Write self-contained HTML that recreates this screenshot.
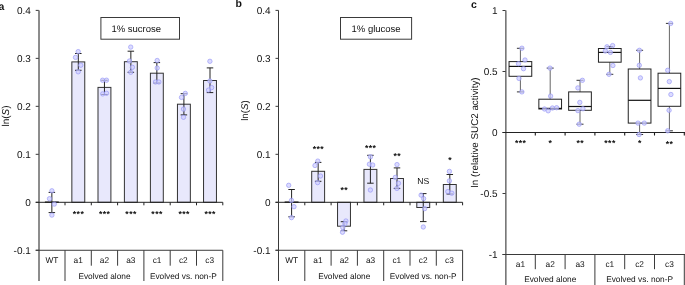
<!DOCTYPE html>
<html><head><meta charset="utf-8"><style>
html,body{margin:0;padding:0;background:#fff;width:685px;height:285px;overflow:hidden}
svg{display:block;will-change:transform}
text{font-family:"Liberation Sans", sans-serif;fill:#111;text-rendering:geometricPrecision}
</style></head><body>
<svg width="685" height="285" viewBox="0 0 685 285">
<text x="-1.4" y="9.5" font-size="10.5" text-anchor="start" font-weight="bold" >a</text>
<text x="235.6" y="6.9" font-size="10.5" text-anchor="start" font-weight="bold" >b</text>
<text x="471.0" y="7.7" font-size="10.5" text-anchor="start" font-weight="bold" >c</text>
<text x="0" y="0" font-size="1" text-anchor="middle" font-weight="normal" ></text>
<line x1="35.7" y1="10.379999999999995" x2="38.7" y2="10.379999999999995" stroke="#3a3a3a" stroke-width="1.0"/>
<text x="30.800000000000004" y="13.879999999999995" font-size="10" text-anchor="end" font-weight="normal" >0.4</text>
<line x1="35.7" y1="58.360000000000014" x2="38.7" y2="58.360000000000014" stroke="#3a3a3a" stroke-width="1.0"/>
<text x="30.800000000000004" y="61.860000000000014" font-size="10" text-anchor="end" font-weight="normal" >0.3</text>
<line x1="35.7" y1="106.34" x2="38.7" y2="106.34" stroke="#3a3a3a" stroke-width="1.0"/>
<text x="30.800000000000004" y="109.84" font-size="10" text-anchor="end" font-weight="normal" >0.2</text>
<line x1="35.7" y1="154.32" x2="38.7" y2="154.32" stroke="#3a3a3a" stroke-width="1.0"/>
<text x="30.800000000000004" y="157.82" font-size="10" text-anchor="end" font-weight="normal" >0.1</text>
<line x1="35.7" y1="202.3" x2="38.7" y2="202.3" stroke="#3a3a3a" stroke-width="1.0"/>
<text x="30.800000000000004" y="205.8" font-size="10" text-anchor="end" font-weight="normal" >0</text>
<line x1="35.7" y1="250.28000000000003" x2="38.7" y2="250.28000000000003" stroke="#3a3a3a" stroke-width="1.0"/>
<text x="30.800000000000004" y="253.78000000000003" font-size="10" text-anchor="end" font-weight="normal" >-0.1</text>
<rect x="45.4" y="201.9" width="12.9" height="0.5999999999999943" fill="#e8e8fc" stroke="#333" stroke-width="1"/>
<rect x="71.85" y="61.9" width="12.9" height="140.4" fill="#e8e8fc" stroke="#333" stroke-width="1"/>
<rect x="98.0" y="87.4" width="12.9" height="114.9" fill="#e8e8fc" stroke="#333" stroke-width="1"/>
<rect x="124.39999999999999" y="61.7" width="12.9" height="140.60000000000002" fill="#e8e8fc" stroke="#333" stroke-width="1"/>
<rect x="150.4" y="73.2" width="12.9" height="129.10000000000002" fill="#e8e8fc" stroke="#333" stroke-width="1"/>
<rect x="177.45000000000002" y="104.2" width="12.9" height="98.10000000000001" fill="#e8e8fc" stroke="#333" stroke-width="1"/>
<rect x="203.55" y="80.5" width="12.9" height="121.80000000000001" fill="#e8e8fc" stroke="#333" stroke-width="1"/>
<line x1="35.7" y1="202.3" x2="222.8" y2="202.3" stroke="#222" stroke-width="1"/>
<line x1="65.0" y1="202.3" x2="65.0" y2="205.3" stroke="#222" stroke-width="1"/>
<line x1="91.30000000000001" y1="202.3" x2="91.30000000000001" y2="205.3" stroke="#222" stroke-width="1"/>
<line x1="117.60000000000001" y1="202.3" x2="117.60000000000001" y2="205.3" stroke="#222" stroke-width="1"/>
<line x1="143.9" y1="202.3" x2="143.9" y2="205.3" stroke="#222" stroke-width="1"/>
<line x1="170.2" y1="202.3" x2="170.2" y2="205.3" stroke="#222" stroke-width="1"/>
<line x1="196.5" y1="202.3" x2="196.5" y2="205.3" stroke="#222" stroke-width="1"/>
<line x1="222.8" y1="202.3" x2="222.8" y2="205.3" stroke="#222" stroke-width="1"/>
<line x1="51.85" y1="192.4" x2="51.85" y2="212.6" stroke="#222" stroke-width="1"/>
<line x1="48.6" y1="192.4" x2="55.1" y2="192.4" stroke="#222" stroke-width="1"/>
<line x1="48.6" y1="212.6" x2="55.1" y2="212.6" stroke="#222" stroke-width="1"/>
<line x1="78.3" y1="53.5" x2="78.3" y2="70.3" stroke="#222" stroke-width="1"/>
<line x1="75.05" y1="53.5" x2="81.55" y2="53.5" stroke="#222" stroke-width="1"/>
<line x1="75.05" y1="70.3" x2="81.55" y2="70.3" stroke="#222" stroke-width="1"/>
<line x1="104.45" y1="80.3" x2="104.45" y2="94.5" stroke="#222" stroke-width="1"/>
<line x1="101.2" y1="80.3" x2="107.7" y2="80.3" stroke="#222" stroke-width="1"/>
<line x1="101.2" y1="94.5" x2="107.7" y2="94.5" stroke="#222" stroke-width="1"/>
<line x1="130.85" y1="51.2" x2="130.85" y2="72.3" stroke="#222" stroke-width="1"/>
<line x1="127.6" y1="51.2" x2="134.1" y2="51.2" stroke="#222" stroke-width="1"/>
<line x1="127.6" y1="72.3" x2="134.1" y2="72.3" stroke="#222" stroke-width="1"/>
<line x1="156.85" y1="62.6" x2="156.85" y2="83" stroke="#222" stroke-width="1"/>
<line x1="153.6" y1="62.6" x2="160.1" y2="62.6" stroke="#222" stroke-width="1"/>
<line x1="153.6" y1="83" x2="160.1" y2="83" stroke="#222" stroke-width="1"/>
<line x1="183.9" y1="93.7" x2="183.9" y2="114.9" stroke="#222" stroke-width="1"/>
<line x1="180.65" y1="93.7" x2="187.15" y2="93.7" stroke="#222" stroke-width="1"/>
<line x1="180.65" y1="114.9" x2="187.15" y2="114.9" stroke="#222" stroke-width="1"/>
<line x1="210.0" y1="67.9" x2="210.0" y2="92.6" stroke="#222" stroke-width="1"/>
<line x1="206.75" y1="67.9" x2="213.25" y2="67.9" stroke="#222" stroke-width="1"/>
<line x1="206.75" y1="92.6" x2="213.25" y2="92.6" stroke="#222" stroke-width="1"/>
<circle cx="51.9" cy="190.8" r="2.2" fill="rgba(205,205,255,0.72)" stroke="rgba(145,145,245,0.75)" stroke-width="0.8"/>
<circle cx="49.5" cy="198.7" r="2.2" fill="rgba(205,205,255,0.72)" stroke="rgba(145,145,245,0.75)" stroke-width="0.8"/>
<circle cx="54.3" cy="204.1" r="2.2" fill="rgba(205,205,255,0.72)" stroke="rgba(145,145,245,0.75)" stroke-width="0.8"/>
<circle cx="51.9" cy="215.1" r="2.2" fill="rgba(205,205,255,0.72)" stroke="rgba(145,145,245,0.75)" stroke-width="0.8"/>
<circle cx="78.2" cy="51.6" r="2.2" fill="rgba(205,205,255,0.72)" stroke="rgba(145,145,245,0.75)" stroke-width="0.8"/>
<circle cx="75.5" cy="57.4" r="2.2" fill="rgba(205,205,255,0.72)" stroke="rgba(145,145,245,0.75)" stroke-width="0.8"/>
<circle cx="80.8" cy="65.2" r="2.2" fill="rgba(205,205,255,0.72)" stroke="rgba(145,145,245,0.75)" stroke-width="0.8"/>
<circle cx="78.2" cy="71.8" r="2.2" fill="rgba(205,205,255,0.72)" stroke="rgba(145,145,245,0.75)" stroke-width="0.8"/>
<circle cx="102.6" cy="80.2" r="2.2" fill="rgba(205,205,255,0.72)" stroke="rgba(145,145,245,0.75)" stroke-width="0.8"/>
<circle cx="106.5" cy="80.2" r="2.2" fill="rgba(205,205,255,0.72)" stroke="rgba(145,145,245,0.75)" stroke-width="0.8"/>
<circle cx="102.7" cy="93.9" r="2.2" fill="rgba(205,205,255,0.72)" stroke="rgba(145,145,245,0.75)" stroke-width="0.8"/>
<circle cx="106.5" cy="93.3" r="2.2" fill="rgba(205,205,255,0.72)" stroke="rgba(145,145,245,0.75)" stroke-width="0.8"/>
<circle cx="130.7" cy="47.1" r="2.2" fill="rgba(205,205,255,0.72)" stroke="rgba(145,145,245,0.75)" stroke-width="0.8"/>
<circle cx="129.5" cy="61" r="2.2" fill="rgba(205,205,255,0.72)" stroke="rgba(145,145,245,0.75)" stroke-width="0.8"/>
<circle cx="132.4" cy="67.3" r="2.2" fill="rgba(205,205,255,0.72)" stroke="rgba(145,145,245,0.75)" stroke-width="0.8"/>
<circle cx="130.7" cy="72.3" r="2.2" fill="rgba(205,205,255,0.72)" stroke="rgba(145,145,245,0.75)" stroke-width="0.8"/>
<circle cx="157.2" cy="60.5" r="2.2" fill="rgba(205,205,255,0.72)" stroke="rgba(145,145,245,0.75)" stroke-width="0.8"/>
<circle cx="157.2" cy="68" r="2.2" fill="rgba(205,205,255,0.72)" stroke="rgba(145,145,245,0.75)" stroke-width="0.8"/>
<circle cx="155.5" cy="82" r="2.2" fill="rgba(205,205,255,0.72)" stroke="rgba(145,145,245,0.75)" stroke-width="0.8"/>
<circle cx="158.9" cy="82" r="2.2" fill="rgba(205,205,255,0.72)" stroke="rgba(145,145,245,0.75)" stroke-width="0.8"/>
<circle cx="185.3" cy="93.4" r="2.2" fill="rgba(205,205,255,0.72)" stroke="rgba(145,145,245,0.75)" stroke-width="0.8"/>
<circle cx="181.5" cy="97.4" r="2.2" fill="rgba(205,205,255,0.72)" stroke="rgba(145,145,245,0.75)" stroke-width="0.8"/>
<circle cx="183.5" cy="109.1" r="2.2" fill="rgba(205,205,255,0.72)" stroke="rgba(145,145,245,0.75)" stroke-width="0.8"/>
<circle cx="183.5" cy="117.3" r="2.2" fill="rgba(205,205,255,0.72)" stroke="rgba(145,145,245,0.75)" stroke-width="0.8"/>
<circle cx="209.9" cy="61.3" r="2.2" fill="rgba(205,205,255,0.72)" stroke="rgba(145,145,245,0.75)" stroke-width="0.8"/>
<circle cx="209.9" cy="81" r="2.2" fill="rgba(205,205,255,0.72)" stroke="rgba(145,145,245,0.75)" stroke-width="0.8"/>
<circle cx="211.6" cy="87.6" r="2.2" fill="rgba(205,205,255,0.72)" stroke="rgba(145,145,245,0.75)" stroke-width="0.8"/>
<circle cx="208.5" cy="90.1" r="2.2" fill="rgba(205,205,255,0.72)" stroke="rgba(145,145,245,0.75)" stroke-width="0.8"/>
<text x="78.52" y="217.22" font-size="8.6" text-anchor="middle" font-weight="bold" letter-spacing="0.45">***</text>
<text x="104.67" y="217.22" font-size="8.6" text-anchor="middle" font-weight="bold" letter-spacing="0.45">***</text>
<text x="131.07" y="217.22" font-size="8.6" text-anchor="middle" font-weight="bold" letter-spacing="0.45">***</text>
<text x="157.07" y="217.22" font-size="8.6" text-anchor="middle" font-weight="bold" letter-spacing="0.45">***</text>
<text x="184.12" y="217.22" font-size="8.6" text-anchor="middle" font-weight="bold" letter-spacing="0.45">***</text>
<text x="210.22" y="217.22" font-size="8.6" text-anchor="middle" font-weight="bold" letter-spacing="0.45">***</text>
<line x1="39.0" y1="10.4" x2="39.0" y2="281" stroke="#1a1a1a" stroke-width="1.0"/>
<line x1="35.7" y1="250.28000000000003" x2="222.8" y2="250.28000000000003" stroke="#3a3a3a" stroke-width="1.0"/>
<line x1="65.0" y1="250.28000000000003" x2="65.0" y2="281" stroke="#3a3a3a" stroke-width="1.0"/>
<line x1="91.30000000000001" y1="250.28000000000003" x2="91.30000000000001" y2="265.7" stroke="#3a3a3a" stroke-width="1.0"/>
<line x1="117.60000000000001" y1="250.28000000000003" x2="117.60000000000001" y2="265.7" stroke="#3a3a3a" stroke-width="1.0"/>
<line x1="143.9" y1="250.28000000000003" x2="143.9" y2="281" stroke="#3a3a3a" stroke-width="1.0"/>
<line x1="170.2" y1="250.28000000000003" x2="170.2" y2="265.7" stroke="#3a3a3a" stroke-width="1.0"/>
<line x1="196.5" y1="250.28000000000003" x2="196.5" y2="265.7" stroke="#3a3a3a" stroke-width="1.0"/>
<line x1="222.8" y1="250.28000000000003" x2="222.8" y2="281" stroke="#3a3a3a" stroke-width="1.0"/>
<text x="51.85" y="263.0" font-size="8.3" text-anchor="middle" font-weight="normal" >WT</text>
<text x="78.15" y="263.0" font-size="8.3" text-anchor="middle" font-weight="normal" >a1</text>
<text x="104.45" y="263.0" font-size="8.3" text-anchor="middle" font-weight="normal" >a2</text>
<text x="130.75" y="263.0" font-size="8.3" text-anchor="middle" font-weight="normal" >a3</text>
<text x="157.05" y="263.0" font-size="8.3" text-anchor="middle" font-weight="normal" >c1</text>
<text x="183.35000000000002" y="263.0" font-size="8.3" text-anchor="middle" font-weight="normal" >c2</text>
<text x="209.65000000000003" y="263.0" font-size="8.3" text-anchor="middle" font-weight="normal" >c3</text>
<text x="104.45" y="278.7" font-size="8.3" text-anchor="middle" font-weight="normal" >Evolved alone</text>
<text x="183.35000000000002" y="278.7" font-size="8.3" text-anchor="middle" font-weight="normal" >Evolved vs. non-P</text>
<rect x="100.9" y="17.5" width="78.6" height="21.700000000000003" fill="#fff" stroke="#3a3a3a" stroke-width="1"/>
<text x="136.3" y="32.3" font-size="9.5" text-anchor="middle" font-weight="normal" >1% sucrose</text>
<text x="0" y="0" font-size="1" text-anchor="middle" font-weight="normal" ></text>
<line x1="275.5" y1="10.379999999999995" x2="278.5" y2="10.379999999999995" stroke="#3a3a3a" stroke-width="1.0"/>
<text x="270.6" y="13.879999999999995" font-size="10" text-anchor="end" font-weight="normal" >0.4</text>
<line x1="275.5" y1="58.360000000000014" x2="278.5" y2="58.360000000000014" stroke="#3a3a3a" stroke-width="1.0"/>
<text x="270.6" y="61.860000000000014" font-size="10" text-anchor="end" font-weight="normal" >0.3</text>
<line x1="275.5" y1="106.34" x2="278.5" y2="106.34" stroke="#3a3a3a" stroke-width="1.0"/>
<text x="270.6" y="109.84" font-size="10" text-anchor="end" font-weight="normal" >0.2</text>
<line x1="275.5" y1="154.32" x2="278.5" y2="154.32" stroke="#3a3a3a" stroke-width="1.0"/>
<text x="270.6" y="157.82" font-size="10" text-anchor="end" font-weight="normal" >0.1</text>
<line x1="275.5" y1="202.3" x2="278.5" y2="202.3" stroke="#3a3a3a" stroke-width="1.0"/>
<text x="270.6" y="205.8" font-size="10" text-anchor="end" font-weight="normal" >0</text>
<line x1="275.5" y1="250.28000000000003" x2="278.5" y2="250.28000000000003" stroke="#3a3a3a" stroke-width="1.0"/>
<text x="270.6" y="253.78000000000003" font-size="10" text-anchor="end" font-weight="normal" >-0.1</text>
<rect x="285.15000000000003" y="201.9" width="12.9" height="0.5999999999999943" fill="#e8e8fc" stroke="#333" stroke-width="1"/>
<rect x="311.7" y="171.3" width="12.9" height="31.0" fill="#e8e8fc" stroke="#333" stroke-width="1"/>
<rect x="337.55" y="202.3" width="12.9" height="23.899999999999977" fill="#e8e8fc" stroke="#333" stroke-width="1"/>
<rect x="363.95" y="169.4" width="12.9" height="32.900000000000006" fill="#e8e8fc" stroke="#333" stroke-width="1"/>
<rect x="390.55" y="178.5" width="12.9" height="23.80000000000001" fill="#e8e8fc" stroke="#333" stroke-width="1"/>
<rect x="416.8" y="202.3" width="12.9" height="5.199999999999989" fill="#e8e8fc" stroke="#333" stroke-width="1"/>
<rect x="443.35" y="184.5" width="12.9" height="17.80000000000001" fill="#e8e8fc" stroke="#333" stroke-width="1"/>
<line x1="275.5" y1="202.3" x2="462.6" y2="202.3" stroke="#222" stroke-width="1"/>
<line x1="304.8" y1="202.3" x2="304.8" y2="205.3" stroke="#222" stroke-width="1"/>
<line x1="331.1" y1="202.3" x2="331.1" y2="205.3" stroke="#222" stroke-width="1"/>
<line x1="357.4" y1="202.3" x2="357.4" y2="205.3" stroke="#222" stroke-width="1"/>
<line x1="383.7" y1="202.3" x2="383.7" y2="205.3" stroke="#222" stroke-width="1"/>
<line x1="410.0" y1="202.3" x2="410.0" y2="205.3" stroke="#222" stroke-width="1"/>
<line x1="436.3" y1="202.3" x2="436.3" y2="205.3" stroke="#222" stroke-width="1"/>
<line x1="462.6" y1="202.3" x2="462.6" y2="205.3" stroke="#222" stroke-width="1"/>
<line x1="291.6" y1="189.5" x2="291.6" y2="216.8" stroke="#222" stroke-width="1"/>
<line x1="288.35" y1="189.5" x2="294.85" y2="189.5" stroke="#222" stroke-width="1"/>
<line x1="288.35" y1="216.8" x2="294.85" y2="216.8" stroke="#222" stroke-width="1"/>
<line x1="318.15" y1="162.4" x2="318.15" y2="181.3" stroke="#222" stroke-width="1"/>
<line x1="314.9" y1="162.4" x2="321.4" y2="162.4" stroke="#222" stroke-width="1"/>
<line x1="314.9" y1="181.3" x2="321.4" y2="181.3" stroke="#222" stroke-width="1"/>
<line x1="344.0" y1="221.7" x2="344.0" y2="230.8" stroke="#222" stroke-width="1"/>
<line x1="340.75" y1="221.7" x2="347.25" y2="221.7" stroke="#222" stroke-width="1"/>
<line x1="340.75" y1="230.8" x2="347.25" y2="230.8" stroke="#222" stroke-width="1"/>
<line x1="370.4" y1="155.3" x2="370.4" y2="183.2" stroke="#222" stroke-width="1"/>
<line x1="367.15" y1="155.3" x2="373.65" y2="155.3" stroke="#222" stroke-width="1"/>
<line x1="367.15" y1="183.2" x2="373.65" y2="183.2" stroke="#222" stroke-width="1"/>
<line x1="397.0" y1="167.9" x2="397.0" y2="188.4" stroke="#222" stroke-width="1"/>
<line x1="393.75" y1="167.9" x2="400.25" y2="167.9" stroke="#222" stroke-width="1"/>
<line x1="393.75" y1="188.4" x2="400.25" y2="188.4" stroke="#222" stroke-width="1"/>
<line x1="423.25" y1="193.6" x2="423.25" y2="221.6" stroke="#222" stroke-width="1"/>
<line x1="420.0" y1="193.6" x2="426.5" y2="193.6" stroke="#222" stroke-width="1"/>
<line x1="420.0" y1="221.6" x2="426.5" y2="221.6" stroke="#222" stroke-width="1"/>
<line x1="449.8" y1="174.5" x2="449.8" y2="194" stroke="#222" stroke-width="1"/>
<line x1="446.55" y1="174.5" x2="453.05" y2="174.5" stroke="#222" stroke-width="1"/>
<line x1="446.55" y1="194" x2="453.05" y2="194" stroke="#222" stroke-width="1"/>
<circle cx="288.7" cy="185.3" r="2.2" fill="rgba(205,205,255,0.72)" stroke="rgba(145,145,245,0.75)" stroke-width="0.8"/>
<circle cx="291.5" cy="200.4" r="2.2" fill="rgba(205,205,255,0.72)" stroke="rgba(145,145,245,0.75)" stroke-width="0.8"/>
<circle cx="294" cy="206.7" r="2.2" fill="rgba(205,205,255,0.72)" stroke="rgba(145,145,245,0.75)" stroke-width="0.8"/>
<circle cx="291.5" cy="217.6" r="2.2" fill="rgba(205,205,255,0.72)" stroke="rgba(145,145,245,0.75)" stroke-width="0.8"/>
<circle cx="317.8" cy="161.1" r="2.2" fill="rgba(205,205,255,0.72)" stroke="rgba(145,145,245,0.75)" stroke-width="0.8"/>
<circle cx="315" cy="165.5" r="2.2" fill="rgba(205,205,255,0.72)" stroke="rgba(145,145,245,0.75)" stroke-width="0.8"/>
<circle cx="320.5" cy="176" r="2.2" fill="rgba(205,205,255,0.72)" stroke="rgba(145,145,245,0.75)" stroke-width="0.8"/>
<circle cx="317.6" cy="182.6" r="2.2" fill="rgba(205,205,255,0.72)" stroke="rgba(145,145,245,0.75)" stroke-width="0.8"/>
<circle cx="345.9" cy="221" r="2.2" fill="rgba(205,205,255,0.72)" stroke="rgba(145,145,245,0.75)" stroke-width="0.8"/>
<circle cx="344.9" cy="223.8" r="2.2" fill="rgba(205,205,255,0.72)" stroke="rgba(145,145,245,0.75)" stroke-width="0.8"/>
<circle cx="342.8" cy="227.6" r="2.2" fill="rgba(205,205,255,0.72)" stroke="rgba(145,145,245,0.75)" stroke-width="0.8"/>
<circle cx="342.5" cy="232.2" r="2.2" fill="rgba(205,205,255,0.72)" stroke="rgba(145,145,245,0.75)" stroke-width="0.8"/>
<circle cx="370.4" cy="156.8" r="2.2" fill="rgba(205,205,255,0.72)" stroke="rgba(145,145,245,0.75)" stroke-width="0.8"/>
<circle cx="369.4" cy="164.2" r="2.2" fill="rgba(205,205,255,0.72)" stroke="rgba(145,145,245,0.75)" stroke-width="0.8"/>
<circle cx="372.7" cy="165" r="2.2" fill="rgba(205,205,255,0.72)" stroke="rgba(145,145,245,0.75)" stroke-width="0.8"/>
<circle cx="370.4" cy="190" r="2.2" fill="rgba(205,205,255,0.72)" stroke="rgba(145,145,245,0.75)" stroke-width="0.8"/>
<circle cx="397" cy="164.6" r="2.2" fill="rgba(205,205,255,0.72)" stroke="rgba(145,145,245,0.75)" stroke-width="0.8"/>
<circle cx="395.3" cy="177.4" r="2.2" fill="rgba(205,205,255,0.72)" stroke="rgba(145,145,245,0.75)" stroke-width="0.8"/>
<circle cx="398.5" cy="183.3" r="2.2" fill="rgba(205,205,255,0.72)" stroke="rgba(145,145,245,0.75)" stroke-width="0.8"/>
<circle cx="396.9" cy="188.4" r="2.2" fill="rgba(205,205,255,0.72)" stroke="rgba(145,145,245,0.75)" stroke-width="0.8"/>
<circle cx="421.1" cy="195.1" r="2.2" fill="rgba(205,205,255,0.72)" stroke="rgba(145,145,245,0.75)" stroke-width="0.8"/>
<circle cx="423.6" cy="198.6" r="2.2" fill="rgba(205,205,255,0.72)" stroke="rgba(145,145,245,0.75)" stroke-width="0.8"/>
<circle cx="424.7" cy="208.6" r="2.2" fill="rgba(205,205,255,0.72)" stroke="rgba(145,145,245,0.75)" stroke-width="0.8"/>
<circle cx="423.3" cy="227" r="2.2" fill="rgba(205,205,255,0.72)" stroke="rgba(145,145,245,0.75)" stroke-width="0.8"/>
<circle cx="449.4" cy="171.4" r="2.2" fill="rgba(205,205,255,0.72)" stroke="rgba(145,145,245,0.75)" stroke-width="0.8"/>
<circle cx="449.4" cy="180.9" r="2.2" fill="rgba(205,205,255,0.72)" stroke="rgba(145,145,245,0.75)" stroke-width="0.8"/>
<circle cx="447.8" cy="191.6" r="2.2" fill="rgba(205,205,255,0.72)" stroke="rgba(145,145,245,0.75)" stroke-width="0.8"/>
<circle cx="451.8" cy="193.2" r="2.2" fill="rgba(205,205,255,0.72)" stroke="rgba(145,145,245,0.75)" stroke-width="0.8"/>
<text x="318.38" y="151.62" font-size="8.6" text-anchor="middle" font-weight="bold" letter-spacing="0.45">***</text>
<text x="344.23" y="193.12" font-size="8.6" text-anchor="middle" font-weight="bold" letter-spacing="0.45">**</text>
<text x="370.62" y="151.02" font-size="8.6" text-anchor="middle" font-weight="bold" letter-spacing="0.45">***</text>
<text x="397.23" y="158.52" font-size="8.6" text-anchor="middle" font-weight="bold" letter-spacing="0.45">**</text>
<text x="423.25" y="184.2" font-size="8.6" text-anchor="middle" font-weight="normal" >NS</text>
<text x="450.03" y="162.82" font-size="8.6" text-anchor="middle" font-weight="bold" letter-spacing="0.45">*</text>
<line x1="278.5" y1="10.4" x2="278.5" y2="281" stroke="#3a3a3a" stroke-width="1.0"/>
<line x1="275.5" y1="250.28000000000003" x2="462.6" y2="250.28000000000003" stroke="#3a3a3a" stroke-width="1.0"/>
<line x1="304.8" y1="250.28000000000003" x2="304.8" y2="281" stroke="#3a3a3a" stroke-width="1.0"/>
<line x1="331.1" y1="250.28000000000003" x2="331.1" y2="265.7" stroke="#3a3a3a" stroke-width="1.0"/>
<line x1="357.4" y1="250.28000000000003" x2="357.4" y2="265.7" stroke="#3a3a3a" stroke-width="1.0"/>
<line x1="383.7" y1="250.28000000000003" x2="383.7" y2="281" stroke="#3a3a3a" stroke-width="1.0"/>
<line x1="410.0" y1="250.28000000000003" x2="410.0" y2="265.7" stroke="#3a3a3a" stroke-width="1.0"/>
<line x1="436.3" y1="250.28000000000003" x2="436.3" y2="265.7" stroke="#3a3a3a" stroke-width="1.0"/>
<line x1="462.6" y1="250.28000000000003" x2="462.6" y2="281" stroke="#3a3a3a" stroke-width="1.0"/>
<text x="291.65" y="263.0" font-size="8.3" text-anchor="middle" font-weight="normal" >WT</text>
<text x="317.95" y="263.0" font-size="8.3" text-anchor="middle" font-weight="normal" >a1</text>
<text x="344.25" y="263.0" font-size="8.3" text-anchor="middle" font-weight="normal" >a2</text>
<text x="370.55" y="263.0" font-size="8.3" text-anchor="middle" font-weight="normal" >a3</text>
<text x="396.85" y="263.0" font-size="8.3" text-anchor="middle" font-weight="normal" >c1</text>
<text x="423.15" y="263.0" font-size="8.3" text-anchor="middle" font-weight="normal" >c2</text>
<text x="449.45000000000005" y="263.0" font-size="8.3" text-anchor="middle" font-weight="normal" >c3</text>
<text x="344.25" y="278.7" font-size="8.3" text-anchor="middle" font-weight="normal" >Evolved alone</text>
<text x="423.15" y="278.7" font-size="8.3" text-anchor="middle" font-weight="normal" >Evolved vs. non-P</text>
<rect x="340.5" y="17.5" width="71.10000000000002" height="21.700000000000003" fill="#fff" stroke="#3a3a3a" stroke-width="1"/>
<text x="376.1" y="32.3" font-size="9.5" text-anchor="middle" font-weight="normal" >1% glucose</text>
<text x="0" y="0" font-size="10" text-anchor="middle" transform="translate(9.1,116) rotate(-90)">ln(<tspan font-style="italic">S</tspan>)</text>
<text x="0" y="0" font-size="9.7" text-anchor="middle" transform="translate(247.9,110.6) rotate(-90)">ln(<tspan font-style="italic">S</tspan>)</text>
<line x1="502.5" y1="10.5" x2="505.5" y2="10.5" stroke="#3a3a3a" stroke-width="1.0"/>
<text x="497.6" y="14.0" font-size="10" text-anchor="end" font-weight="normal" >1</text>
<line x1="502.5" y1="71.5" x2="505.5" y2="71.5" stroke="#3a3a3a" stroke-width="1.0"/>
<text x="497.6" y="75.0" font-size="10" text-anchor="end" font-weight="normal" >0.5</text>
<line x1="502.5" y1="132.5" x2="505.5" y2="132.5" stroke="#3a3a3a" stroke-width="1.0"/>
<text x="497.6" y="136.0" font-size="10" text-anchor="end" font-weight="normal" >0</text>
<line x1="502.5" y1="193.5" x2="505.5" y2="193.5" stroke="#3a3a3a" stroke-width="1.0"/>
<text x="497.6" y="197.0" font-size="10" text-anchor="end" font-weight="normal" >-0.5</text>
<line x1="502.5" y1="254.5" x2="505.5" y2="254.5" stroke="#3a3a3a" stroke-width="1.0"/>
<text x="497.6" y="258.0" font-size="10" text-anchor="end" font-weight="normal" >-1</text>
<text x="0" y="0" font-size="9.8" text-anchor="middle" transform="translate(478.3,132.4) rotate(-90)">ln (relative SUC2 activity)</text>
<line x1="502.5" y1="132.5" x2="685" y2="132.5" stroke="#222" stroke-width="1"/>
<line x1="535.3" y1="132.5" x2="535.3" y2="135.5" stroke="#1a1a1a" stroke-width="1.1"/>
<line x1="565.1" y1="132.5" x2="565.1" y2="135.5" stroke="#1a1a1a" stroke-width="1.1"/>
<line x1="594.9" y1="132.5" x2="594.9" y2="135.5" stroke="#1a1a1a" stroke-width="1.1"/>
<line x1="624.6999999999999" y1="132.5" x2="624.6999999999999" y2="135.5" stroke="#1a1a1a" stroke-width="1.1"/>
<line x1="654.5" y1="132.5" x2="654.5" y2="135.5" stroke="#1a1a1a" stroke-width="1.1"/>
<line x1="684.3" y1="132.5" x2="684.3" y2="135.5" stroke="#1a1a1a" stroke-width="1.1"/>
<line x1="520.4" y1="48.3" x2="520.4" y2="61.6" stroke="#666" stroke-width="1"/>
<line x1="520.4" y1="76.3" x2="520.4" y2="91.9" stroke="#666" stroke-width="1"/>
<line x1="516.9" y1="48.3" x2="523.9" y2="48.3" stroke="#333" stroke-width="1"/>
<line x1="516.9" y1="91.9" x2="523.9" y2="91.9" stroke="#333" stroke-width="1"/>
<rect x="509.04999999999995" y="61.6" width="22.7" height="14.699999999999996" fill="none" stroke="#222" stroke-width="1"/>
<line x1="509.04999999999995" y1="66.4" x2="531.75" y2="66.4" stroke="#111" stroke-width="1.2"/>
<line x1="550.2" y1="68.1" x2="550.2" y2="99.2" stroke="#666" stroke-width="1"/>
<line x1="550.2" y1="109.0" x2="550.2" y2="109.0" stroke="#666" stroke-width="1"/>
<line x1="546.7" y1="68.1" x2="553.7" y2="68.1" stroke="#333" stroke-width="1"/>
<line x1="546.7" y1="109.0" x2="553.7" y2="109.0" stroke="#333" stroke-width="1"/>
<rect x="538.85" y="99.2" width="22.7" height="9.799999999999997" fill="none" stroke="#222" stroke-width="1"/>
<line x1="538.85" y1="108.4" x2="561.5500000000001" y2="108.4" stroke="#111" stroke-width="1.2"/>
<line x1="580.0" y1="80.3" x2="580.0" y2="91.9" stroke="#666" stroke-width="1"/>
<line x1="580.0" y1="110.3" x2="580.0" y2="124.2" stroke="#666" stroke-width="1"/>
<line x1="576.5" y1="80.3" x2="583.5" y2="80.3" stroke="#333" stroke-width="1"/>
<line x1="576.5" y1="124.2" x2="583.5" y2="124.2" stroke="#333" stroke-width="1"/>
<rect x="568.65" y="91.9" width="22.7" height="18.39999999999999" fill="none" stroke="#222" stroke-width="1"/>
<line x1="568.65" y1="106.5" x2="591.35" y2="106.5" stroke="#111" stroke-width="1.2"/>
<line x1="609.8" y1="46.6" x2="609.8" y2="48.5" stroke="#666" stroke-width="1"/>
<line x1="609.8" y1="62.2" x2="609.8" y2="74.3" stroke="#666" stroke-width="1"/>
<line x1="606.3" y1="46.6" x2="613.3" y2="46.6" stroke="#333" stroke-width="1"/>
<line x1="606.3" y1="74.3" x2="613.3" y2="74.3" stroke="#333" stroke-width="1"/>
<rect x="598.4499999999999" y="48.5" width="22.7" height="13.700000000000003" fill="none" stroke="#222" stroke-width="1"/>
<line x1="598.4499999999999" y1="52.4" x2="621.15" y2="52.4" stroke="#111" stroke-width="1.2"/>
<line x1="639.5999999999999" y1="50.3" x2="639.5999999999999" y2="69.0" stroke="#666" stroke-width="1"/>
<line x1="639.5999999999999" y1="123.1" x2="639.5999999999999" y2="134.5" stroke="#666" stroke-width="1"/>
<line x1="636.0999999999999" y1="50.3" x2="643.0999999999999" y2="50.3" stroke="#333" stroke-width="1"/>
<line x1="636.0999999999999" y1="134.5" x2="643.0999999999999" y2="134.5" stroke="#333" stroke-width="1"/>
<rect x="628.2499999999999" y="69.0" width="22.7" height="54.099999999999994" fill="none" stroke="#222" stroke-width="1"/>
<line x1="628.2499999999999" y1="100.3" x2="650.9499999999999" y2="100.3" stroke="#111" stroke-width="1.2"/>
<line x1="669.4" y1="23.4" x2="669.4" y2="73.2" stroke="#666" stroke-width="1"/>
<line x1="669.4" y1="106.3" x2="669.4" y2="130.8" stroke="#666" stroke-width="1"/>
<line x1="665.9" y1="23.4" x2="672.9" y2="23.4" stroke="#333" stroke-width="1"/>
<line x1="665.9" y1="130.8" x2="672.9" y2="130.8" stroke="#333" stroke-width="1"/>
<rect x="658.05" y="73.2" width="22.7" height="33.099999999999994" fill="none" stroke="#222" stroke-width="1"/>
<line x1="658.05" y1="88.4" x2="680.75" y2="88.4" stroke="#111" stroke-width="1.2"/>
<circle cx="521.9" cy="48.2" r="2.2" fill="rgba(205,205,255,0.72)" stroke="rgba(145,145,245,0.75)" stroke-width="0.8"/>
<circle cx="525" cy="60" r="2.2" fill="rgba(205,205,255,0.72)" stroke="rgba(145,145,245,0.75)" stroke-width="0.8"/>
<circle cx="518.5" cy="63.7" r="2.2" fill="rgba(205,205,255,0.72)" stroke="rgba(145,145,245,0.75)" stroke-width="0.8"/>
<circle cx="523.5" cy="68.7" r="2.2" fill="rgba(205,205,255,0.72)" stroke="rgba(145,145,245,0.75)" stroke-width="0.8"/>
<circle cx="519" cy="78.4" r="2.2" fill="rgba(205,205,255,0.72)" stroke="rgba(145,145,245,0.75)" stroke-width="0.8"/>
<circle cx="521.9" cy="91.9" r="2.2" fill="rgba(205,205,255,0.72)" stroke="rgba(145,145,245,0.75)" stroke-width="0.8"/>
<circle cx="550" cy="68.1" r="2.2" fill="rgba(205,205,255,0.72)" stroke="rgba(145,145,245,0.75)" stroke-width="0.8"/>
<circle cx="550.6" cy="96.1" r="2.2" fill="rgba(205,205,255,0.72)" stroke="rgba(145,145,245,0.75)" stroke-width="0.8"/>
<circle cx="544.5" cy="109" r="2.2" fill="rgba(205,205,255,0.72)" stroke="rgba(145,145,245,0.75)" stroke-width="0.8"/>
<circle cx="548.2" cy="110.8" r="2.2" fill="rgba(205,205,255,0.72)" stroke="rgba(145,145,245,0.75)" stroke-width="0.8"/>
<circle cx="552.4" cy="108" r="2.2" fill="rgba(205,205,255,0.72)" stroke="rgba(145,145,245,0.75)" stroke-width="0.8"/>
<circle cx="556.6" cy="107.7" r="2.2" fill="rgba(205,205,255,0.72)" stroke="rgba(145,145,245,0.75)" stroke-width="0.8"/>
<circle cx="582.4" cy="80.3" r="2.2" fill="rgba(205,205,255,0.72)" stroke="rgba(145,145,245,0.75)" stroke-width="0.8"/>
<circle cx="577.9" cy="87.9" r="2.2" fill="rgba(205,205,255,0.72)" stroke="rgba(145,145,245,0.75)" stroke-width="0.8"/>
<circle cx="579.8" cy="102.4" r="2.2" fill="rgba(205,205,255,0.72)" stroke="rgba(145,145,245,0.75)" stroke-width="0.8"/>
<circle cx="582.9" cy="108.7" r="2.2" fill="rgba(205,205,255,0.72)" stroke="rgba(145,145,245,0.75)" stroke-width="0.8"/>
<circle cx="577.9" cy="110.6" r="2.2" fill="rgba(205,205,255,0.72)" stroke="rgba(145,145,245,0.75)" stroke-width="0.8"/>
<circle cx="579.2" cy="124.2" r="2.2" fill="rgba(205,205,255,0.72)" stroke="rgba(145,145,245,0.75)" stroke-width="0.8"/>
<circle cx="607" cy="46.8" r="2.2" fill="rgba(205,205,255,0.72)" stroke="rgba(145,145,245,0.75)" stroke-width="0.8"/>
<circle cx="612.6" cy="45.6" r="2.2" fill="rgba(205,205,255,0.72)" stroke="rgba(145,145,245,0.75)" stroke-width="0.8"/>
<circle cx="605.3" cy="51" r="2.2" fill="rgba(205,205,255,0.72)" stroke="rgba(145,145,245,0.75)" stroke-width="0.8"/>
<circle cx="610.4" cy="52.4" r="2.2" fill="rgba(205,205,255,0.72)" stroke="rgba(145,145,245,0.75)" stroke-width="0.8"/>
<circle cx="612.9" cy="65.5" r="2.2" fill="rgba(205,205,255,0.72)" stroke="rgba(145,145,245,0.75)" stroke-width="0.8"/>
<circle cx="609" cy="74.3" r="2.2" fill="rgba(205,205,255,0.72)" stroke="rgba(145,145,245,0.75)" stroke-width="0.8"/>
<circle cx="639.4" cy="50.3" r="2.2" fill="rgba(205,205,255,0.72)" stroke="rgba(145,145,245,0.75)" stroke-width="0.8"/>
<circle cx="639.3" cy="65.3" r="2.2" fill="rgba(205,205,255,0.72)" stroke="rgba(145,145,245,0.75)" stroke-width="0.8"/>
<circle cx="640.4" cy="77.9" r="2.2" fill="rgba(205,205,255,0.72)" stroke="rgba(145,145,245,0.75)" stroke-width="0.8"/>
<circle cx="638" cy="123.1" r="2.2" fill="rgba(205,205,255,0.72)" stroke="rgba(145,145,245,0.75)" stroke-width="0.8"/>
<circle cx="644.3" cy="123.1" r="2.2" fill="rgba(205,205,255,0.72)" stroke="rgba(145,145,245,0.75)" stroke-width="0.8"/>
<circle cx="639.1" cy="134.5" r="2.2" fill="rgba(205,205,255,0.72)" stroke="rgba(145,145,245,0.75)" stroke-width="0.8"/>
<circle cx="670.7" cy="23.4" r="2.2" fill="rgba(205,205,255,0.72)" stroke="rgba(145,145,245,0.75)" stroke-width="0.8"/>
<circle cx="667.7" cy="70.3" r="2.2" fill="rgba(205,205,255,0.72)" stroke="rgba(145,145,245,0.75)" stroke-width="0.8"/>
<circle cx="669.3" cy="81.6" r="2.2" fill="rgba(205,205,255,0.72)" stroke="rgba(145,145,245,0.75)" stroke-width="0.8"/>
<circle cx="670.9" cy="94.5" r="2.2" fill="rgba(205,205,255,0.72)" stroke="rgba(145,145,245,0.75)" stroke-width="0.8"/>
<circle cx="669.1" cy="110.3" r="2.2" fill="rgba(205,205,255,0.72)" stroke="rgba(145,145,245,0.75)" stroke-width="0.8"/>
<circle cx="667.7" cy="130.8" r="2.2" fill="rgba(205,205,255,0.72)" stroke="rgba(145,145,245,0.75)" stroke-width="0.8"/>
<text x="520.62" y="146.42" font-size="8.6" text-anchor="middle" font-weight="bold" letter-spacing="0.45">***</text>
<text x="550.43" y="145.82" font-size="8.6" text-anchor="middle" font-weight="bold" letter-spacing="0.45">*</text>
<text x="580.23" y="145.72" font-size="8.6" text-anchor="middle" font-weight="bold" letter-spacing="0.45">**</text>
<text x="610.02" y="145.92" font-size="8.6" text-anchor="middle" font-weight="bold" letter-spacing="0.45">***</text>
<text x="639.82" y="146.22" font-size="8.6" text-anchor="middle" font-weight="bold" letter-spacing="0.45">*</text>
<text x="669.62" y="146.82" font-size="8.6" text-anchor="middle" font-weight="bold" letter-spacing="0.45">**</text>
<line x1="505.9" y1="10.4" x2="505.9" y2="285" stroke="#222" stroke-width="1.0"/>
<line x1="502.5" y1="254.5" x2="685" y2="254.5" stroke="#3a3a3a" stroke-width="1.0"/>
<line x1="535.3" y1="254.5" x2="535.3" y2="269.2" stroke="#3a3a3a" stroke-width="1.0"/>
<line x1="565.1" y1="254.5" x2="565.1" y2="269.2" stroke="#3a3a3a" stroke-width="1.0"/>
<line x1="594.9" y1="254.5" x2="594.9" y2="285" stroke="#3a3a3a" stroke-width="1.0"/>
<line x1="624.6999999999999" y1="254.5" x2="624.6999999999999" y2="269.2" stroke="#3a3a3a" stroke-width="1.0"/>
<line x1="654.5" y1="254.5" x2="654.5" y2="269.2" stroke="#3a3a3a" stroke-width="1.0"/>
<line x1="684.3" y1="254.5" x2="684.3" y2="285" stroke="#3a3a3a" stroke-width="1.0"/>
<text x="520.4" y="266.7" font-size="8.3" text-anchor="middle" font-weight="normal" >a1</text>
<text x="550.2" y="266.7" font-size="8.3" text-anchor="middle" font-weight="normal" >a2</text>
<text x="580.0" y="266.7" font-size="8.3" text-anchor="middle" font-weight="normal" >a3</text>
<text x="609.8" y="266.7" font-size="8.3" text-anchor="middle" font-weight="normal" >c1</text>
<text x="639.5999999999999" y="266.7" font-size="8.3" text-anchor="middle" font-weight="normal" >c2</text>
<text x="669.4" y="266.7" font-size="8.3" text-anchor="middle" font-weight="normal" >c3</text>
<text x="550.2" y="282.0" font-size="8.3" text-anchor="middle" font-weight="normal" >Evolved alone</text>
<text x="639.5999999999999" y="282.0" font-size="8.3" text-anchor="middle" font-weight="normal" >Evolved vs. non-P</text>
</svg>
</body></html>
